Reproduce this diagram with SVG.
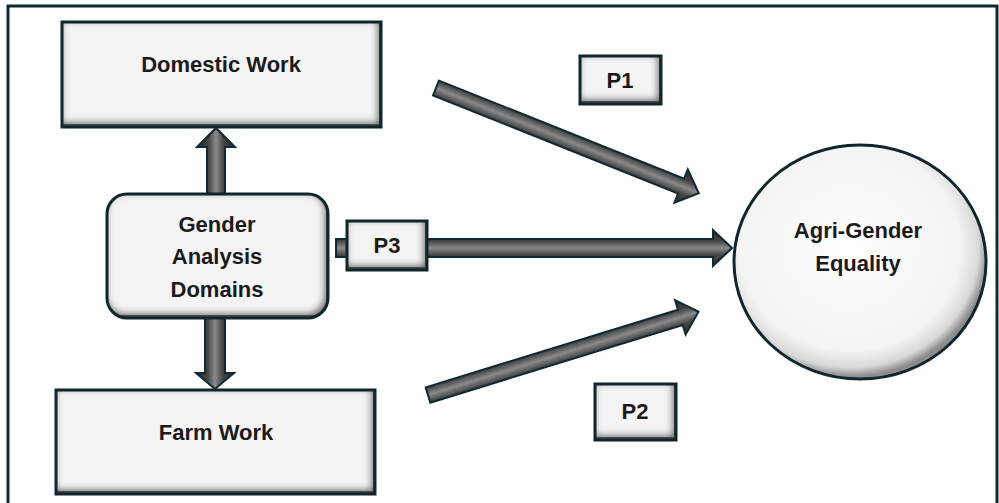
<svg xmlns="http://www.w3.org/2000/svg" width="999" height="503" viewBox="0 0 999 503">
  <defs>
    <filter id="bevel" x="0" y="0" width="1" height="1" color-interpolation-filters="sRGB">
      <feGaussianBlur in="SourceAlpha" stdDeviation="4" result="blur"/>
      <feOffset in="blur" dx="-2" dy="-3" result="off"/>
      <feComposite in="off" in2="SourceAlpha" operator="arithmetic" k2="-1" k3="1" result="inv"/>
      <feFlood flood-color="#2a2a2a" flood-opacity="0.85" result="col"/>
      <feComposite in="col" in2="inv" operator="in" result="sh"/>
      <feComposite in="sh" in2="SourceAlpha" operator="in" result="shc"/>
      <feMerge><feMergeNode in="SourceGraphic"/><feMergeNode in="shc"/></feMerge>
    </filter>
    <linearGradient id="shaft" x1="0" y1="0" x2="0" y2="1">
      <stop offset="0" stop-color="#2a2a2a"/>
      <stop offset="0.3" stop-color="#444"/>
      <stop offset="0.5" stop-color="#8a8a8a"/>
      <stop offset="0.7" stop-color="#444"/>
      <stop offset="1" stop-color="#2a2a2a"/>
    </linearGradient>
    <radialGradient id="oval" cx="0.46" cy="0.44" r="0.55">
      <stop offset="0" stop-color="#ffffff"/>
      <stop offset="0.8" stop-color="#f4f4f4"/>
      <stop offset="0.93" stop-color="#d8d8d8"/>
      <stop offset="1" stop-color="#8c8c8c"/>
    </radialGradient>
    <style>
      .fill { fill: #f4f4f4; filter: url(#bevel); }
      .edge { fill: none; stroke: #10262e; stroke-width: 3; }
      .arrow { fill: url(#shaft); stroke: #0e2a33; stroke-width: 2; stroke-linejoin: miter; }
      .lbl { font-family: "Liberation Sans", Arial, sans-serif; font-weight: bold; font-size: 22px; fill: #1a1a1a; text-anchor: middle; }
      .frame { fill: none; stroke: #0e2b36; stroke-width: 3; }
    </style>
  </defs>

  <rect x="0" y="0" width="999" height="503" fill="#ffffff"/>
  <path class="frame" d="M8,503 V6 H997 V503"/>

  <g id="connectors">
    <!-- up to Domestic Work -->
    <polygon class="arrow" transform="translate(216,194) rotate(-90)" points="0,-9 47,-9 47,-19 66,0 47,19 47,9 0,9"/>
    <!-- down to Farm Work -->
    <polygon class="arrow" transform="translate(215,318) rotate(90)" points="0,-10 55,-10 55,-19 71,0 55,19 55,10 0,10"/>
    <!-- P1 -->
    <polygon class="arrow" transform="translate(436,88) rotate(21.8)" points="0,-8 264,-8 264,-18 283,0 264,18 264,8 0,8"/>
    <!-- P2 -->
    <polygon class="arrow" transform="translate(428,395) rotate(-17.1)" points="0,-8 264,-8 264,-18 283,0 264,18 264,8 0,8"/>
    <!-- P3 -->
    <polygon class="arrow" transform="translate(336,248)" points="0,-9 377,-9 377,-18 396,0 377,18 377,9 0,9"/>
  </g>

  <g id="domestic-work">
    <rect class="fill" x="62" y="22" width="319" height="105"/>
    <rect class="edge" x="62" y="22" width="319" height="105"/>
    <text class="lbl" x="221" y="72">Domestic Work</text>
  </g>

  <g id="farm-work">
    <rect class="fill" x="56" y="390" width="319" height="104"/>
    <rect class="edge" x="56" y="390" width="319" height="104"/>
    <text class="lbl" x="216" y="440">Farm Work</text>
  </g>

  <g id="gender-analysis">
    <rect class="fill" x="107" y="194" width="221" height="124" rx="20" ry="20"/>
    <rect class="edge" x="107" y="194" width="221" height="124" rx="20" ry="20"/>
    <text class="lbl" x="217" y="232">Gender</text>
    <text class="lbl" x="217" y="264">Analysis</text>
    <text class="lbl" x="217" y="297">Domains</text>
  </g>

  <g id="p1">
    <rect class="fill" x="580" y="56" width="81" height="48"/>
    <rect class="edge" x="580" y="56" width="81" height="48"/>
    <text class="lbl" x="620" y="88">P1</text>
  </g>

  <g id="p3">
    <rect class="fill" x="347" y="221" width="80" height="49"/>
    <rect class="edge" x="347" y="221" width="80" height="49"/>
    <text class="lbl" x="387" y="253">P3</text>
  </g>

  <g id="p2">
    <rect class="fill" x="595" y="384" width="81" height="56"/>
    <rect class="edge" x="595" y="384" width="81" height="56"/>
    <text class="lbl" x="635" y="419">P2</text>
  </g>

  <g id="agri-gender-equality">
    <ellipse cx="860" cy="262" rx="126" ry="117" fill="url(#oval)" stroke="#10262e" stroke-width="3"/>
    <text class="lbl" x="858" y="238">Agri-Gender</text>
    <text class="lbl" x="858" y="271">Equality</text>
  </g>
</svg>
